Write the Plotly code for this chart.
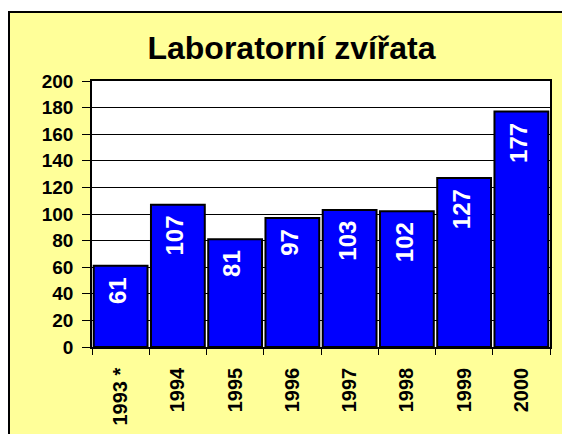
import plotly.graph_objects as go

categories = ["1993 *", "1994", "1995", "1996", "1997", "1998", "1999", "2000"]
values = [61, 107, 81, 97, 103, 102, 127, 177]
y_ticks = [0, 20, 40, 60, 80, 100, 120, 140, 160, 180, 200]
title_text = "Laboratorní zvířata"

W, H = 570, 434
L, R, T, B = 84, 28, 73, 95
pw, ph = W - L - R, H - T - B

def px(x):
    return (x - L) / pw

def py(y):
    return (H - B - y) / ph

YELLOW = "#FFFF99"
FONT = "Liberation Sans, Arial, sans-serif"

fig = go.Figure()
fig.add_trace(go.Bar(
    x=categories, y=values,
    marker=dict(color="#0000FF", line=dict(color="black", width=2)),
    hoverinfo="skip",
))

for i, v in enumerate(values):
    fig.add_annotation(
        x=i, y=v, xref="x", yref="y", text=f"<b>{v}</b>", showarrow=False,
        textangle=-90, yanchor="top", xanchor="center", yshift=-9, xshift=-3,
        font=dict(family=FONT, size=24, color="white"),
    )

shapes = [
    dict(type="rect", xref="paper", yref="paper", x0=px(-5), x1=px(W + 5), y0=py(4), y1=py(-5),
         fillcolor="white", line=dict(width=0), layer="below"),
    dict(type="line", xref="paper", yref="paper", x0=px(1), x1=px(1), y0=py(4), y1=py(H + 5),
         line=dict(color="black", width=2)),
    dict(type="line", xref="paper", yref="paper", x0=px(0), x1=px(W + 5), y0=py(4), y1=py(4),
         line=dict(color="black", width=2)),
]

fig.update_layout(
    width=W, height=H,
    margin=dict(l=L, r=R, t=T, b=B, autoexpand=False),
    paper_bgcolor=YELLOW, plot_bgcolor="white",
    showlegend=False, bargap=0.06,
    shapes=shapes,
    title=dict(text=f"<b>{title_text}</b>", x=283.5 / W, xanchor="center", xref="container",
               y=1 - 40 / H, yanchor="middle", yref="container",
               font=dict(family=FONT, size=32, color="black")),
    font=dict(family=FONT, color="black"),
    xaxis=dict(
        type="category", range=[-0.5, len(categories) - 0.5], autorange=False,
        tickangle=-90, ticks="outside", tickson="boundaries", ticklen=6,
        tickcolor="black", showline=True, linecolor="black", linewidth=1.5, mirror=True,
        tickfont=dict(family=FONT, size=20, color="black", weight="bold"),
        showgrid=False, ticklabelstandoff=11, automargin=False,
    ),
    yaxis=dict(
        range=[0, 200], autorange=False, tickvals=y_ticks, ticks="outside", ticklen=8, tickcolor="black",
        showline=True, linecolor="black", linewidth=1.5, mirror=True,
        showgrid=True, gridcolor="black", gridwidth=1, zeroline=False,
        tickfont=dict(family=FONT, size=19, color="black", weight="bold"),
        ticklabelstandoff=5, automargin=False,
    ),
)

fig.write_html("out.html")
